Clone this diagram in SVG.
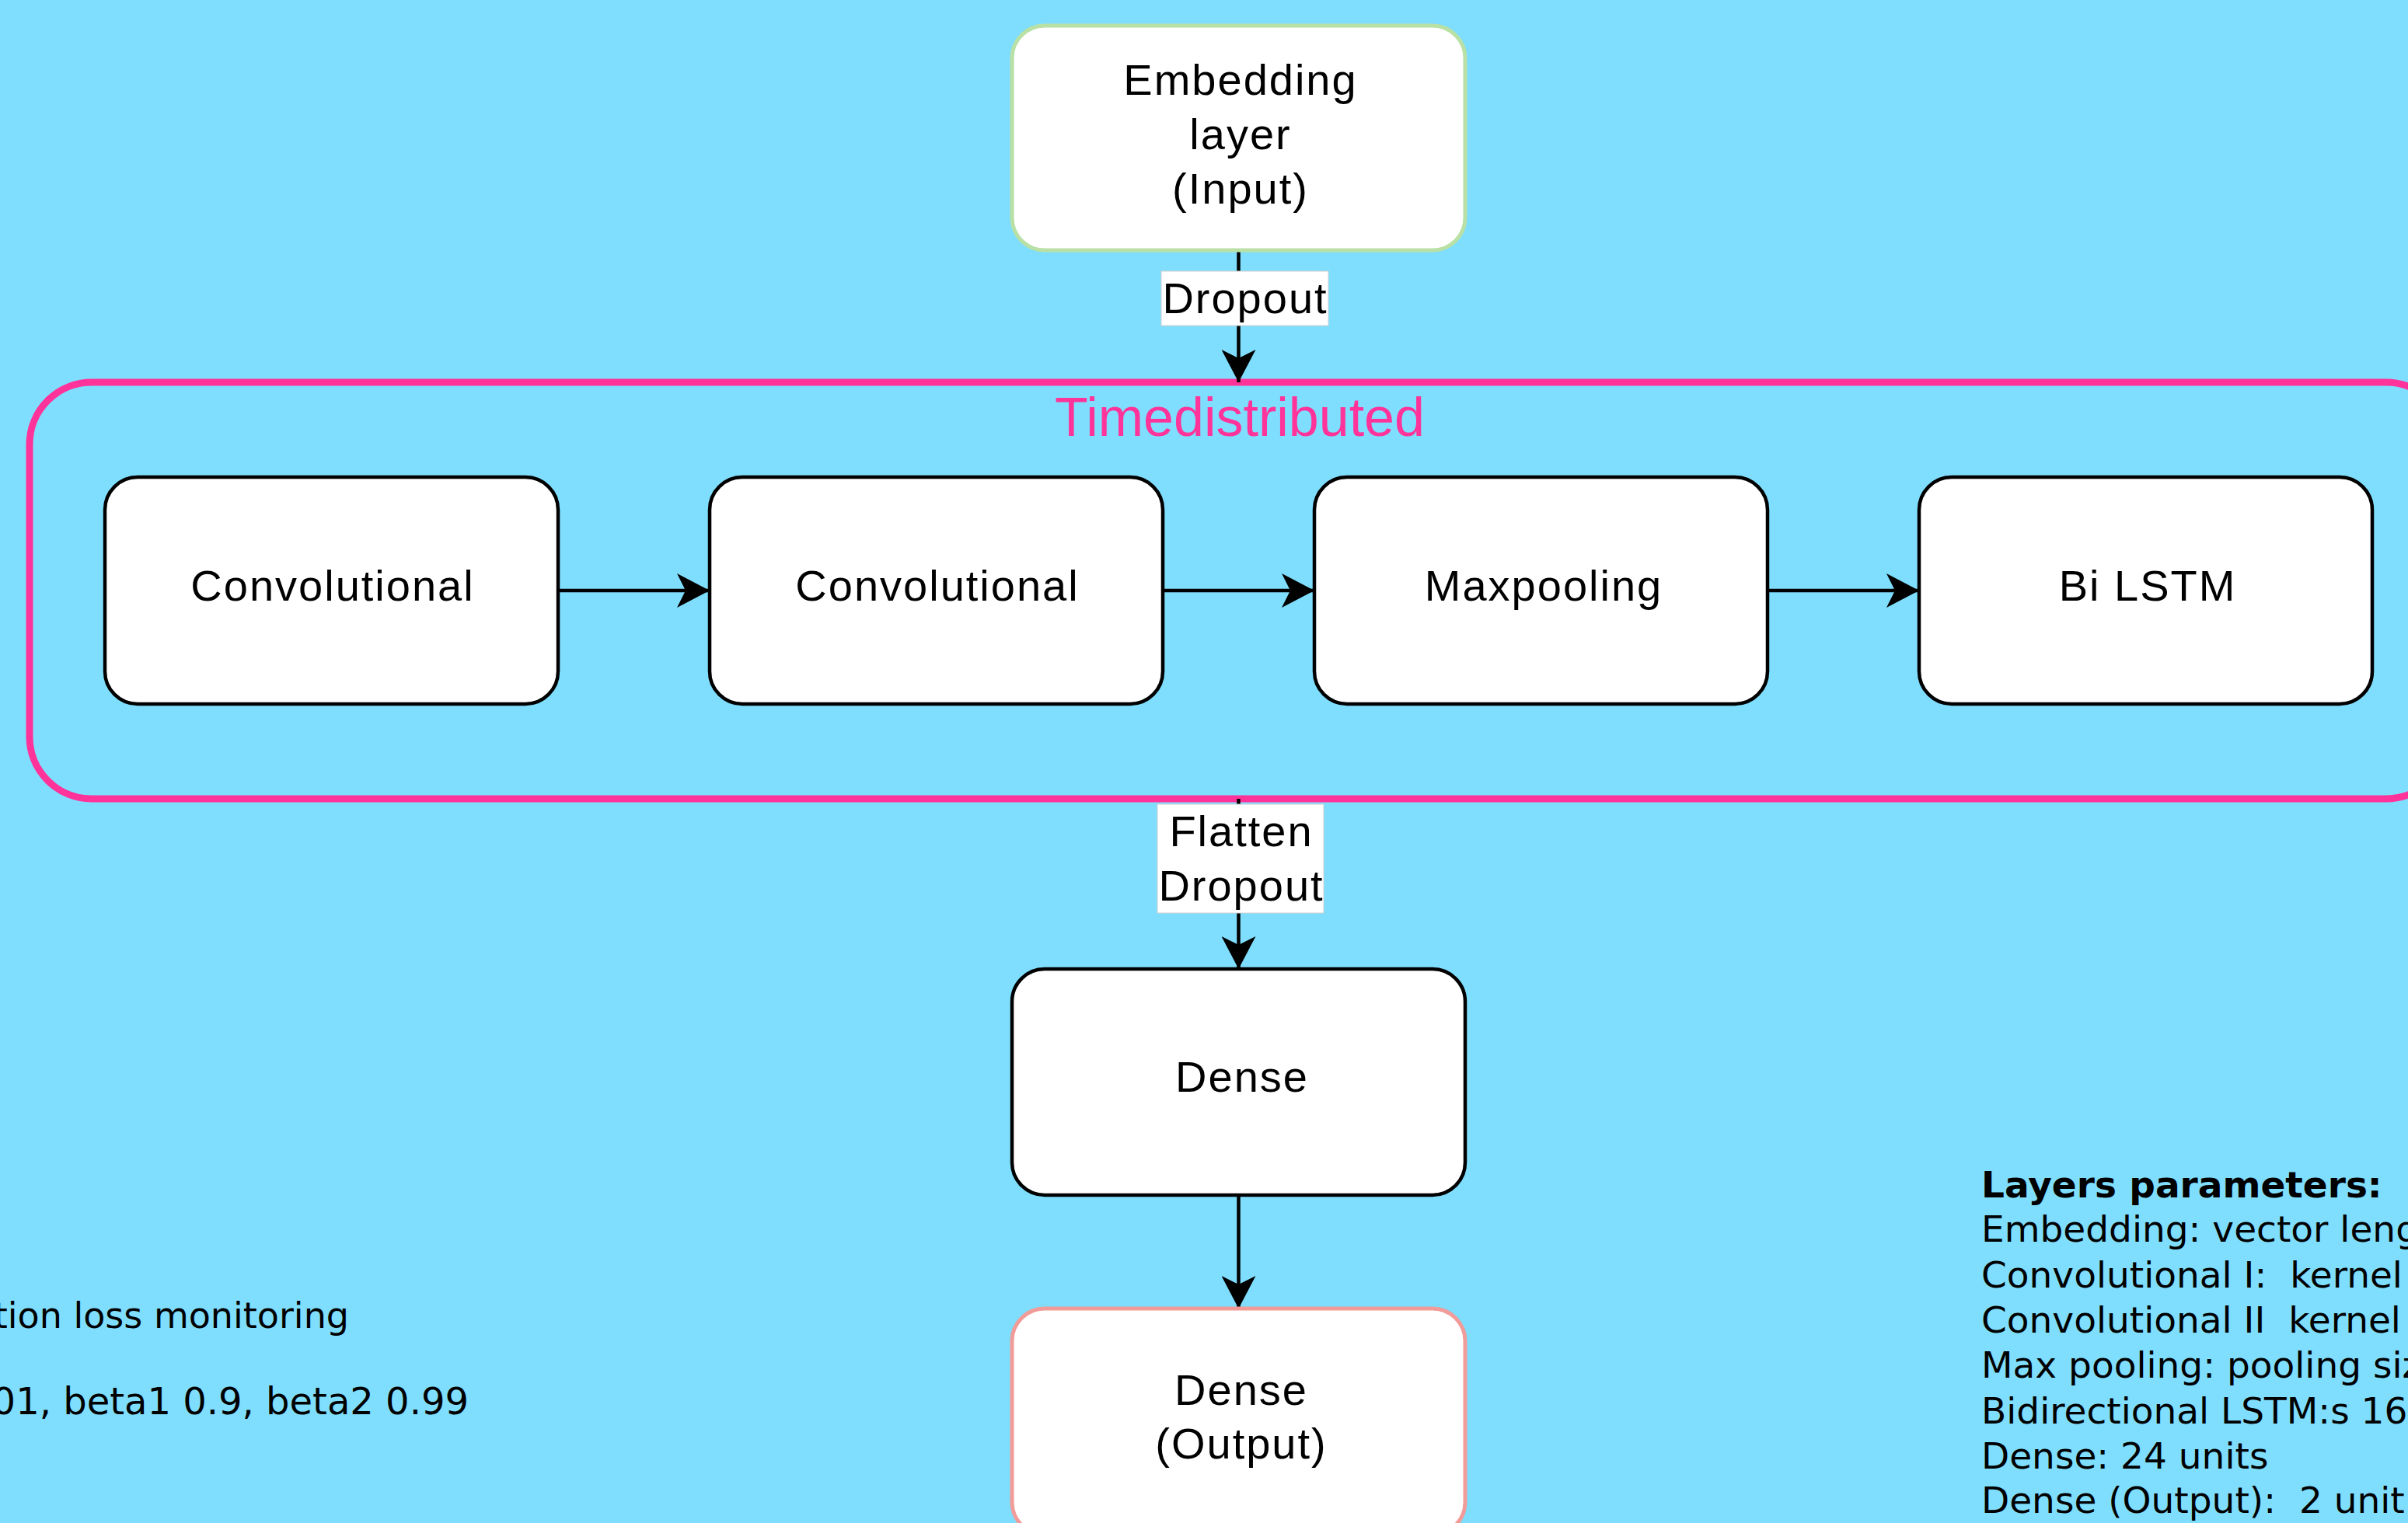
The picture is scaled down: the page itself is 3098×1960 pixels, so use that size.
<svg xmlns="http://www.w3.org/2000/svg" width="3098" height="1960" viewBox="0 0 3098 1960">
<style>
.node{fill:#ffffff;stroke:#000000;stroke-width:4.5}
.lbl{font-family:"Liberation Sans",Arial,sans-serif;font-size:56px;fill:#000;text-anchor:middle;letter-spacing:2px}
.edge{stroke:#000;stroke-width:4.5;fill:none}
.elbl{fill:#ffffff;stroke:#d0d0d0;stroke-width:1}
.note{font-family:"DejaVu Sans",Verdana,sans-serif;font-size:47px;fill:#000;white-space:pre}
</style>
<defs>
<marker id="arr" markerUnits="userSpaceOnUse" viewBox="0 -22 42 44" refX="42" refY="0" markerWidth="42" markerHeight="44" orient="auto">
<path d="M0,-22 L42,0 L0,22 L11,0 Z" fill="#000"/>
</marker>
</defs>
<rect x="0" y="0" width="3098" height="1960" fill="#7FDEFD"/>

<g id="timedistributed">
<rect x="38" y="492" width="3112" height="536" rx="80" ry="80" fill="none" stroke="#FF3399" stroke-width="9"/>
<text x="1595" y="561" style="font-family:'Liberation Sans',Arial,sans-serif;font-size:70px;fill:#FF3399;text-anchor:middle">Timedistributed</text>
</g>

<g id="connectors">
<line class="edge" x1="1593.5" y1="322" x2="1593.5" y2="492" marker-end="url(#arr)"/>
<line class="edge" x1="718" y1="760" x2="913" y2="760" marker-end="url(#arr)"/>
<line class="edge" x1="1496" y1="760" x2="1691" y2="760" marker-end="url(#arr)"/>
<line class="edge" x1="2274" y1="760" x2="2469" y2="760" marker-end="url(#arr)"/>
<line class="edge" x1="1593.5" y1="1028" x2="1593.5" y2="1247" marker-end="url(#arr)"/>
<line class="edge" x1="1593.5" y1="1538" x2="1593.5" y2="1684" marker-end="url(#arr)"/>
<g id="label-dropout">
<rect class="elbl" x="1494" y="349" width="215" height="70"/>
<text class="lbl" x="1602" y="403">Dropout</text>
</g>
<g id="label-flatten">
<rect class="elbl" x="1489" y="1035" width="214" height="140"/>
<text class="lbl" x="1597" y="1089">Flatten</text>
<text class="lbl" x="1597" y="1159">Dropout</text>
</g>
</g>

<g id="embedding">
<rect x="1302" y="33" width="583" height="289" rx="42" ry="42" fill="#fff" stroke="#B9E0A5" stroke-width="5"/>
<text class="lbl" x="1596" y="122">Embedding</text>
<text class="lbl" x="1596" y="192">layer</text>
<text class="lbl" x="1596" y="262">(Input)</text>
</g>

<g id="conv1">
<rect class="node" x="135" y="614" width="583" height="292" rx="42" ry="42"/>
<text class="lbl" x="428" y="773">Convolutional</text>
</g>
<g id="conv2">
<rect class="node" x="913" y="614" width="583" height="292" rx="42" ry="42"/>
<text class="lbl" x="1206" y="773">Convolutional</text>
</g>
<g id="maxpool">
<rect class="node" x="1691" y="614" width="583" height="292" rx="42" ry="42"/>
<text class="lbl" x="1986" y="773">Maxpooling</text>
</g>
<g id="bilstm">
<rect class="node" x="2469" y="614" width="583" height="292" rx="42" ry="42"/>
<text class="lbl" x="2763" y="773">Bi LSTM</text>
</g>

<g id="dense">
<rect class="node" x="1302" y="1247" width="583" height="291" rx="42" ry="42"/>
<text class="lbl" x="1598" y="1405">Dense</text>
</g>
<g id="output">
<rect x="1302" y="1684" width="583" height="291" rx="42" ry="42" fill="#fff" stroke="#F19C99" stroke-width="5"/>
<text class="lbl" x="1597" y="1808">Dense</text>
<text class="lbl" x="1597" y="1877">(Output)</text>
</g>

<g id="notes-left">
<text class="note" x="449" y="1709" text-anchor="end" style="font-size:46px">tion loss monitoring</text>
<text class="note" x="603" y="1820" text-anchor="end" style="font-size:48px">01, beta1 0.9, beta2 0.99</text>
</g>

<g id="notes-right">
<text class="note" x="2549" y="1541" font-weight="bold">Layers parameters:</text>
<text class="note" x="2549" y="1598">Embedding: vector leng</text>
<text class="note" x="2549" y="1657">Convolutional I:  kernel</text>
<text class="note" x="2549" y="1715">Convolutional II  kernel</text>
<text class="note" x="2549" y="1773">Max pooling: pooling siz</text>
<text class="note" x="2549" y="1832">Bidirectional LSTM:s 16</text>
<text class="note" x="2549" y="1890">Dense: 24 units</text>
<text class="note" x="2549" y="1947">Dense (Output):  2 unit</text>
</g>
</svg>
